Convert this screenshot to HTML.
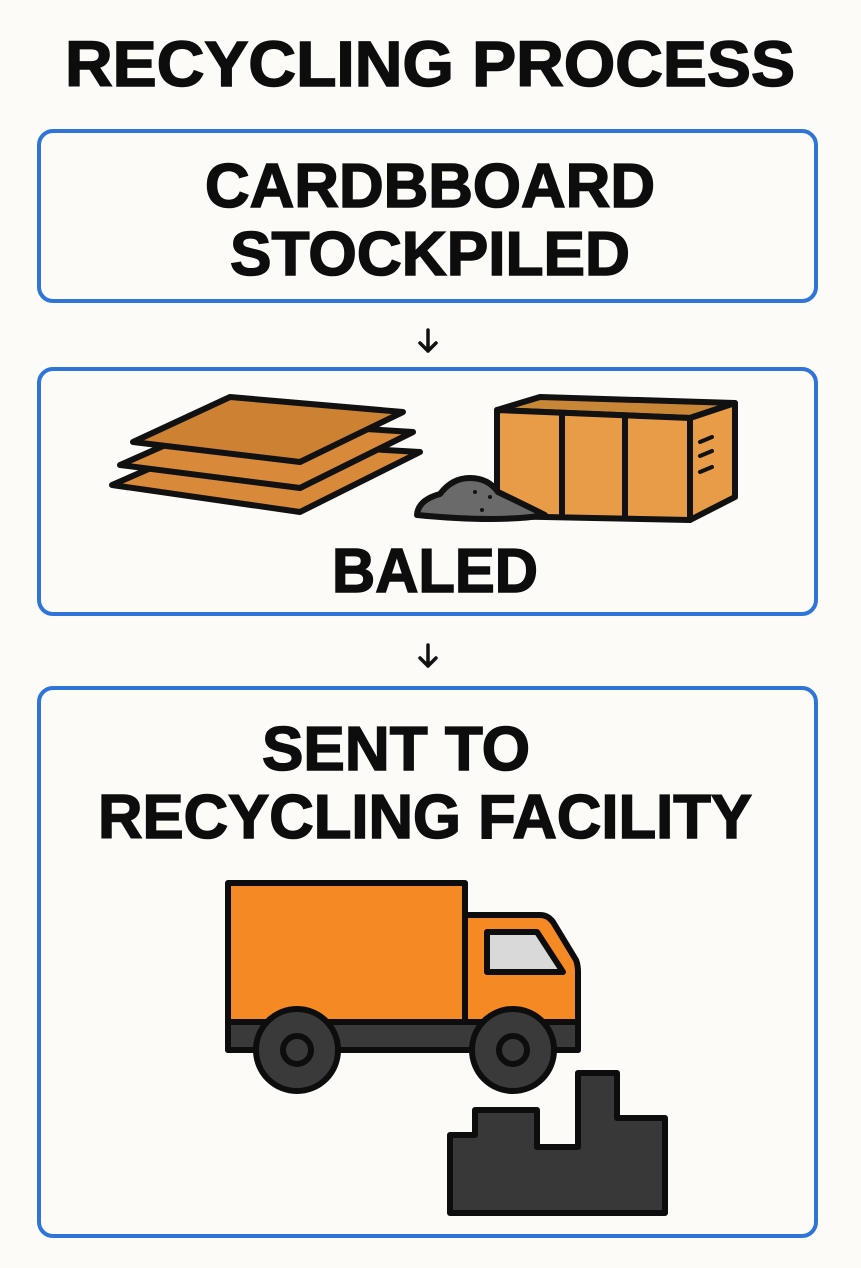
<!DOCTYPE html>
<html><head><meta charset="utf-8"><style>
html,body{margin:0;padding:0;background:#fcfbf7;}
svg{display:block}
text{font-family:"Liberation Sans",sans-serif;font-weight:bold;fill:#0d0d0d;stroke:#0d0d0d;stroke-width:1.5;text-anchor:middle}
</style></head><body>
<svg width="861" height="1268" viewBox="0 0 861 1268" xmlns="http://www.w3.org/2000/svg">
<rect width="861" height="1268" fill="#fcfbf7"/>
<text x="430" y="86" font-size="64" textLength="730" lengthAdjust="spacingAndGlyphs">RECYCLING PROCESS</text>

<rect x="39" y="131" width="777" height="170" rx="14" fill="none" stroke="#2f74d9" stroke-width="4"/>
<text x="430" y="207" font-size="62" textLength="450" lengthAdjust="spacingAndGlyphs">CARDBBOARD</text>
<text x="430" y="275" font-size="62" textLength="400" lengthAdjust="spacingAndGlyphs">STOCKPILED</text>

<g stroke="#111" stroke-width="3.5" fill="none" stroke-linecap="round" stroke-linejoin="round">
<path d="M428 330 V351 M420 343 L428 351 L436 343"/>
<path d="M428 645 V666 M420 658 L428 666 L436 658"/>
</g>

<rect x="39" y="369" width="777" height="245" rx="14" fill="none" stroke="#2f74d9" stroke-width="4"/>
<g stroke="#111" stroke-width="6" stroke-linejoin="round">
<polygon points="112,485 215,440 420,452 300,512" fill="#d8893a"/>
<polygon points="120,465 222,420 413,432 300,488" fill="#d8893a"/>
<polygon points="133,442 230,397 403,412 300,462" fill="#cc8133"/>
<polygon points="497,410 540,397 735,403 690,418" fill="#c88637"/>
<polygon points="497,410 690,418 690,520 497,516" fill="#e89c47"/>
<polygon points="690,418 735,403 735,497 690,520" fill="#e89c47"/>
<line x1="562" y1="413" x2="562" y2="518"/>
<line x1="625" y1="415" x2="625" y2="519"/>
<path d="M417 515 Q418 500 440 494 Q452 478 470 478 Q488 478 498 492 Q525 505 545 515 Q500 523 417 515 Z" fill="#6a6a6a"/>
</g>
<g stroke="#111" stroke-width="4" stroke-linecap="round">
<line x1="700" y1="442" x2="712" y2="437"/><line x1="700" y1="456" x2="712" y2="451"/><line x1="700" y1="472" x2="712" y2="467"/>
</g>
<g fill="#111"><circle cx="475" cy="492" r="2"/><circle cx="490" cy="497" r="2"/><circle cx="482" cy="510" r="2"/></g>
<text x="435" y="592" font-size="62" textLength="206" lengthAdjust="spacingAndGlyphs">BALED</text>

<rect x="39" y="688" width="777" height="548" rx="14" fill="none" stroke="#2f74d9" stroke-width="4"/>
<text x="396" y="770" font-size="62" textLength="268" lengthAdjust="spacingAndGlyphs">SENT TO</text>
<text x="425" y="838" font-size="62" textLength="654" lengthAdjust="spacingAndGlyphs">RECYCLING FACILITY</text>

<g stroke="#0d0d0d" stroke-width="6" stroke-linejoin="round">
<path d="M465 915 H540 Q548 915 553 922 L576 960 Q578 965 578 972 V1050 H465 Z" fill="#f58a25"/>
<rect x="228" y="883" width="237" height="167" fill="#f58a25"/>
<rect x="228" y="1022" width="350" height="28" fill="#3a3a3a"/>
<polygon points="487,932 537,932 563,972 487,972" fill="#d9d9d9"/>
<circle cx="297" cy="1050" r="41" fill="#3a3a3a"/>
<circle cx="297" cy="1050" r="14" fill="#3a3a3a"/>
<circle cx="513" cy="1050" r="41" fill="#3a3a3a"/>
<circle cx="513" cy="1050" r="14" fill="#3a3a3a"/>
<polygon points="450,1135 475,1135 475,1110 537,1110 537,1147 578,1147 578,1073 617,1073 617,1118 665,1118 665,1213 450,1213" fill="#383838"/>
</g>
</svg>
</body></html>
